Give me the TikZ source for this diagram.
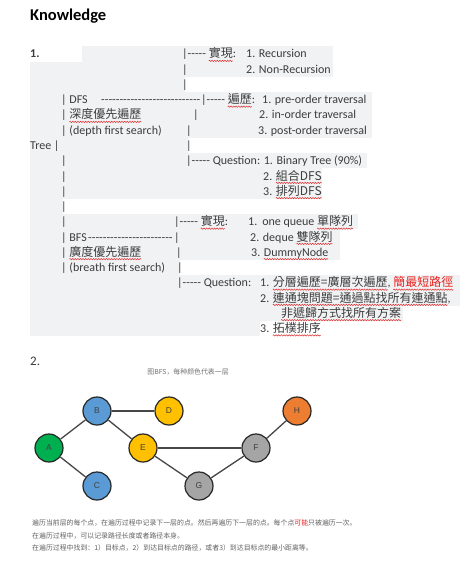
\documentclass[tikz,border=0pt]{standalone}
\usepackage{fontspec}
\usetikzlibrary{decorations.pathmorphing}
\setmainfont{Carlito}[Ligatures=TeXOff]
\setsansfont{Liberation Sans}
\newfontfamily\cjk{Noto Sans CJK TC}
\newfontfamily\cjksc{Noto Sans CJK SC}
\definecolor{ink}{HTML}{3C3C3C}
\definecolor{band}{HTML}{F1F2F4}
\definecolor{squig}{HTML}{E03030}
\definecolor{alert}{HTML}{E8201C}
\definecolor{nblue}{HTML}{5B9BD5}
\definecolor{nyellow}{HTML}{FFC000}
\definecolor{ngreen}{HTML}{00B050}
\definecolor{norange}{HTML}{ED7D31}
\definecolor{ngray}{HTML}{A5A5A5}
% red wavy spell-check underline below a piece of text
\newsavebox\sqbox
\newcommand\sq[1]{\sbox\sqbox{#1}\usebox\sqbox\tikz[overlay]\draw[draw=squig, line width=0.5pt,
  decorate, decoration={zigzag, segment length=2.6pt, amplitude=0.7pt}]
  (-\wd\sqbox,-2.9pt) -- (0pt,-2.9pt);}
\tikzset{
  txt/.style={anchor=base west, inner sep=0pt, text=ink, font=\fontsize{12}{14}\selectfont},
  vertex/.style={circle, draw=black!85, line width=1.2pt, minimum size=28pt, inner sep=0pt,
    font=\sffamily\fontsize{8.5}{10}\selectfont, text=black!75},
  edge/.style={draw=black!72, line width=1.3pt},
  note/.style={anchor=base west, inner sep=0pt, text=black!62, font=\cjksc\fontsize{6.9}{8}\selectfont},
}
\begin{document}
\begin{tikzpicture}[x=1pt,y=-1pt]
\useasboundingbox (0,0) rectangle (474,564);
\fill[white] (0,0) rectangle (474,564);

% highlighted line backgrounds of the outline block
\foreach \i/\a/\b in {1/82/333, 2/30/333, 3/30/185, 4/30/372, 5/30/372, 6/30/372,
  7/30/188, 8/30/367, 9/30/322, 10/30/322, 11/30/63, 12/30/358, 13/30/340,
  14/30/340, 15/30/180, 16/30/460, 17/30/460, 18/30/403, 19/30/260}
  \fill[band] (\a,{54+(\i-1)*15.25-7.7}) rectangle (\b,{54+(\i-1)*15.25+7.7});

\node[txt, text=black, font=\bfseries\fontsize{16.5}{18}\selectfont] (title) at (30,21) {Knowledge};
\node[txt, font=\bfseries\fontsize{12}{14}\selectfont] (one) at (30,58) {1.};

% DFS branch
\node[txt] (impl-a) at (182,58) {|----- {\cjk\sq{實現}}:};
\node[txt] (rec1) at (246,58) {1. Recursion};
\node[txt] (bar-r2) at (182,73.25) {|};
\node[txt] (rec2) at (246,73.25) {2. Non-Recursion};
\node[txt] (bar-r3) at (182,88.5) {|};
\node[txt] (dfs) at (61,103.75) {| DFS};
\node[txt] (dfs-dash) at (101,103.75) {---------------------------};
\node[txt] (trav) at (201,103.75) {|----- {\cjk\sq{遍歷}}:};
\node[txt] (trav1) at (262,103.75) {1. pre-order traversal};
\node[txt] (dfs-cn) at (61,119) {| {\cjk\sq{深度優先遍歷}}};
\node[txt] (bar-r5) at (193,119) {|};
\node[txt] (trav2) at (259,119) {2. in-order traversal};
\node[txt] (dfs-en) at (61,134.25) {| (depth first search)};
\node[txt] (bar-r6) at (186,134.25) {|};
\node[txt] (trav3) at (258,134.25) {3. post-order traversal};
\node[txt] (tree) at (30,149.5) {Tree |};
\node[txt] (bar-r7) at (186,149.5) {|};
\node[txt] (quest) at (186,164.75) {|----- Question: 1. Binary Tree (90\%)};
\node[txt] (q2) at (263,180) {2. {\cjk\sq{組合DFS}}};
\node[txt] (q3) at (263,195.25) {3. {\cjk\sq{排列DFS}}};
\foreach \i/\y in {8/164.75, 9/180, 10/195.25, 11/210.5, 12/225.75}
  \node[txt] (bar-l\i) at (61,\y) {|};

% BFS branch
\node[txt] (impl-b) at (174,225.75) {|----- {\cjk\sq{實現}}:};
\node[txt] (bq1) at (248,225.75) {1.\hspace{5pt}one queue {\cjk\sq{單隊列}}};
\node[txt] (bfs) at (61,241) {| BFS};
\node[txt] (bfs-dash) at (88,241) {-----------------------};
\node[txt] (bar-r13) at (174,241) {|};
\node[txt] (bq2) at (250,241) {2. deque {\cjk\sq{雙隊列}}};
\node[txt] (bfs-cn) at (61,256.25) {| {\cjk\sq{廣度優先遍歷}}};
\node[txt] (bar-r14) at (176,256.25) {|};
\node[txt] (bq3) at (251,256.25) {3. \sq{DummyNode}};
\node[txt] (bfs-en) at (61,271.5) {| (breath first search)};
\node[txt] (bar-r15) at (177,271.5) {|};
\node[txt] (bquest) at (177,286.75) {|----- Question:};
\node[txt] (bu1) at (260,286.75) {1. {\cjk\sq{分層遍歷=廣層次遍歷}}, {\cjk\color{alert}\sq{簡最短路徑}}};
\node[txt] (bu2) at (260,302) {2. {\cjk\sq{連通塊問題=通過點找所有連通點}},};
\node[txt] (bu2b) at (281,317.25) {{\cjk\sq{非遞歸方式找所有方案}}};
\node[txt] (bu3) at (260,332.5) {3. {\cjk\sq{拓樸排序}}};

% part 2: layered BFS example
\node[txt, font=\fontsize{13}{15}\selectfont] (two) at (30,365.5) {2.};
\node[inner sep=0pt, text=black!55, font=\cjksc\fontsize{6.9}{8}\selectfont] (cap) at (188,372) {图BFS，每种颜色代表一层};

\node[vertex, fill=nblue] (B) at (97,411) {B};
\node[vertex, fill=nyellow] (D) at (169,411) {D};
\node[vertex, fill=norange] (H) at (297,411) {H};
\node[vertex, fill=ngreen] (A) at (49,448) {A};
\node[vertex, fill=nyellow] (E) at (143,448) {E};
\node[vertex, fill=ngray] (F) at (256,448) {F};
\node[vertex, fill=nblue] (C) at (97,486) {C};
\node[vertex, fill=ngray] (G) at (199,486) {G};
\draw[edge] (B) -- (D);
\draw[edge] (B) -- (A);
\draw[edge] (B) -- (E);
\draw[edge] (A) -- (C);
\draw[edge] (E) -- (F);
\draw[edge] (E) -- (G);
\draw[edge] (G) -- (F);
\draw[edge] (F) -- (H);

\node[note] (n1) at (32,525.5) {遍历当前层的每个点，在遍历过程中记录下一层的点。然后再遍历下一层的点。每个点\textcolor{alert}{可能}只被遍历一次。};
\node[note] (n2) at (32,538) {在遍历过程中，可以记录路径长度或者路径本身。};
\node[note] (n3) at (32,550.5) {在遍历过程中找到：1）目标点，2）到达目标点的路径，或者3）到达目标点的最小距离等。};
\end{tikzpicture}
\end{document}
